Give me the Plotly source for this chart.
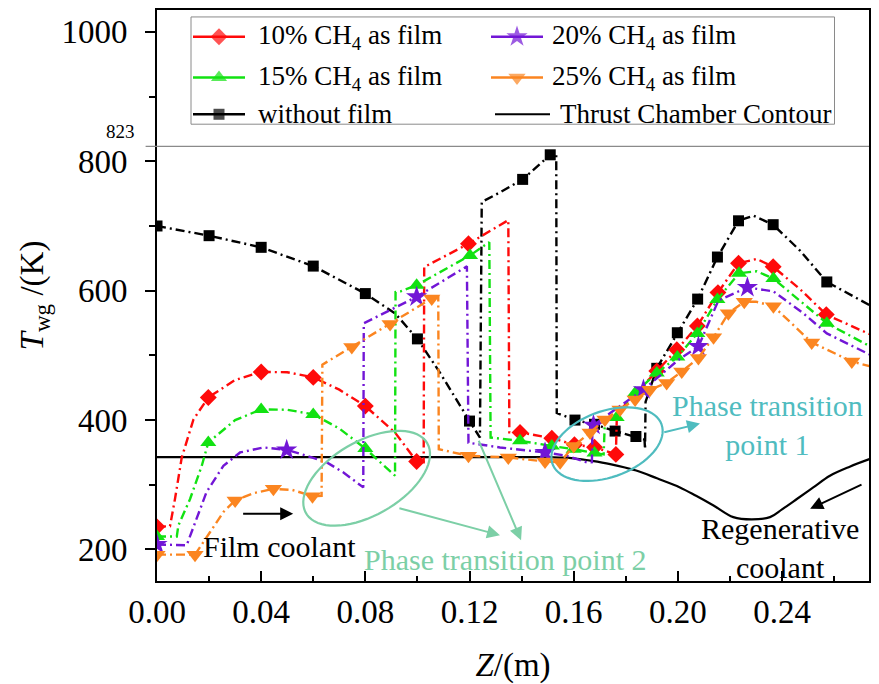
import numpy as np
import plotly.graph_objects as go

# ---------------- data ----------------
# without film
z_nofilm = [0, 0.02, 0.04, 0.06, 0.08, 0.0914, 0.10, 0.1087, 0.12, 0.124, 0.1247, 0.1317, 0.1404, 0.151, 0.1533,
            0.1535, 0.1605, 0.168, 0.1759, 0.1839, 0.1872, 0.1874, 0.1876, 0.1919, 0.1998, 0.2076, 0.2152, 0.2233,
            0.229, 0.2366, 0.2469, 0.2572, 0.2735]
T_nofilm = [700, 685, 667, 638, 595.5, 565, 525.5, 473, 398.5, 373, 737, 752, 772, 810, 813,
            411, 400, 393.5, 383, 374.6, 370, 355, 428, 480, 535, 587, 652, 708,
            716, 702, 662, 613.5, 578]
zm_nofilm = [0, 0.02, 0.04, 0.06, 0.08, 0.10, 0.12, 0.1404, 0.151, 0.1605, 0.168, 0.1759, 0.1839, 0.1919, 0.1998,
             0.2076, 0.2152, 0.2233, 0.2366, 0.2572]
Tm_nofilm = [700, 685, 667, 638, 595.5, 525.5, 398.5, 772, 810, 400, 393.5, 383, 374.6, 480, 535,
             587, 652, 708, 702, 613.5]

# 10% CH4 as film
z_10 = [0, 0.005, 0.0069, 0.0095, 0.014, 0.0197, 0.03, 0.04, 0.05, 0.06, 0.07, 0.08, 0.0914, 0.0997, 0.1024,
        0.1026, 0.1196, 0.1349, 0.1353, 0.1394, 0.1516, 0.1603, 0.168, 0.1762, 0.1766, 0.184, 0.1919, 0.1996,
        0.2075, 0.2154, 0.2233, 0.2303, 0.2366, 0.247, 0.2570, 0.2735]
T_10 = [235, 236, 278, 342, 401, 435, 462, 474.4, 474, 466, 447, 421.6, 380.7, 336, 335,
        636.5, 672.5, 709, 381, 381, 372, 362, 358, 347, 410, 442, 476, 508.6,
        545.5, 597, 642.5, 649, 637, 602, 563, 533]
zm_10 = [0, 0.0197, 0.04, 0.06, 0.08, 0.0997, 0.1196, 0.1394, 0.1516, 0.1603, 0.168, 0.1762, 0.1919, 0.1996,
         0.2075, 0.2154, 0.2233, 0.2366, 0.2570]
Tm_10 = [235, 435, 474.4, 466, 421.6, 336, 672.5, 381, 372, 362, 358, 347, 476, 508.6,
         545.5, 597, 642.5, 637, 563]

# 15% CH4 as film
z_15 = [0, 0.0076, 0.0082, 0.0127, 0.0172, 0.0197, 0.03, 0.04, 0.05, 0.06, 0.07, 0.08, 0.0914, 0.0916, 0.0935,
        0.0997, 0.1202, 0.1276, 0.1281, 0.1394, 0.1516, 0.16, 0.168, 0.1715, 0.172, 0.1765, 0.1836, 0.1919,
        0.1998, 0.2075, 0.2152, 0.2235, 0.2303, 0.2367, 0.247, 0.2572, 0.2738]
T_15 = [220, 220, 237, 278, 329.5, 365.4, 400, 416.5, 416, 408.8, 387, 356, 314, 598, 599,
        608.5, 654.5, 675, 373, 368, 360, 355, 349, 347, 400, 404, 442, 472.8,
        497.5, 534, 586.5, 627, 630, 618.7, 584, 549.6, 514]
zm_15 = [0, 0.0197, 0.04, 0.06, 0.08, 0.0997, 0.1202, 0.1394, 0.1516, 0.16, 0.168, 0.1765, 0.1836, 0.1919,
         0.1998, 0.2075, 0.2152, 0.2235, 0.2367, 0.2572]
Tm_15 = [220, 365.4, 416.5, 408.8, 356, 608.5, 654.5, 368, 360, 355, 349, 404, 442, 472.8,
         497.5, 534, 586.5, 627, 618.7, 549.6]

# 20% CH4 as film
z_20 = [0, 0.0114, 0.0152, 0.019, 0.0255, 0.0319, 0.0408, 0.0498, 0.0575, 0.0652, 0.0716, 0.0792, 0.0794,
        0.0997, 0.119, 0.1196, 0.1317, 0.149, 0.1573, 0.165, 0.167, 0.1672, 0.1765, 0.1868, 0.2002, 0.2079,
        0.2156, 0.2267, 0.2367, 0.2482, 0.2572, 0.2738]
T_20 = [207.7, 206.6, 247.6, 288.6, 329.4, 350, 357.7, 354, 344.8, 334.6, 319, 296, 549.6,
        590.5, 637.6, 365, 357.7, 350, 344.8, 334.7, 335, 391, 418, 447, 493, 513.7,
        585, 605, 599, 565, 534, 501]
zm_20 = [0, 0.0498, 0.0997, 0.149, 0.1676, 0.1868, 0.2079, 0.2267]
Tm_20 = [207.7, 354, 590.5, 350, 392, 447, 513.7, 605]

# 25% CH4 as film
z_25 = [0, 0.0146, 0.0204, 0.0255, 0.030, 0.037, 0.0447, 0.052, 0.0597, 0.0632, 0.0635, 0.0748, 0.0895, 0.1055,
        0.1080, 0.1082, 0.1196, 0.1349, 0.149, 0.1548, 0.16, 0.1663, 0.172, 0.1778, 0.1836, 0.1893, 0.1957,
        0.2015, 0.2079, 0.2137, 0.2194, 0.2255, 0.2300, 0.2367, 0.2514, 0.2668, 0.2738]
T_25 = [192, 192, 227, 258, 275.7, 287, 293.7, 292, 282.4, 283, 485.6, 512.8, 548.6, 588,
        590, 355, 344.8, 342.3, 336, 334.7, 360, 380.7, 401, 416.5, 432, 447, 457.5,
        475, 496, 528, 565, 582.8, 583, 576, 520, 490.7, 483]
zm_25 = [0, 0.0146, 0.030, 0.0447, 0.0597, 0.0748, 0.0895, 0.1055, 0.1196, 0.1349, 0.149, 0.1548, 0.16,
         0.1663, 0.172, 0.1778, 0.1836, 0.1893, 0.1957, 0.2015, 0.2079, 0.2137, 0.2194, 0.2255, 0.2367,
         0.2514, 0.2668]
Tm_25 = [192, 192, 275.7, 293.7, 282.4, 512.8, 548.6, 588, 344.8, 342.3, 336, 334.7, 360,
         380.7, 401, 416.5, 432, 447, 457.5, 475, 496, 528, 565, 582.8, 576,
         520, 490.7]

# thrust chamber contour
z_contour = [0, 0.15, 0.155, 0.16, 0.167, 0.174, 0.184, 0.192, 0.2008, 0.207, 0.2137, 0.2213, 0.2284, 0.2354,
             0.2400, 0.2457, 0.252, 0.2584, 0.266, 0.2738]
T_contour = [342.6, 342.6, 342, 340.8, 337, 332, 322, 310, 296, 283, 268, 250, 246.5, 250,
             262, 278, 296, 314, 328, 340]

T_limit = 823
x_ticks = [0.00, 0.04, 0.08, 0.12, 0.16, 0.20, 0.24]
y_ticks = [200, 400, 600, 800, 1000]

series_names = ["10% CH<sub>4</sub> as film", "15% CH<sub>4</sub> as film", "without film",
                "20% CH<sub>4</sub> as film", "25% CH<sub>4</sub> as film", "Thrust Chamber Contour"]

# ---------------- styling ----------------
FONT = "Liberation Serif"
OFF = 8                       # page body margin of the browser
W, H = 879 - OFF, 684 - OFF
L, R, T, B = 157, 869, 8, 583   # plot area in screen pixels
DASH = "9px,4px,2px,4px"
LW = 2.4

RED, GREEN, PURPLE, ORANGE, BLACK = "#ff0a0a", "#12e212", "#7216d6", "#fb8520", "#000000"
TEAL_GREEN = "#7ccfa6"
TEAL = "#4fbcbf"


def fx(px):
    return (px - L) / (R - L)


def fy(py):
    return (B - py) / (B - T)


fig = go.Figure()

fig.add_trace(go.Scatter(x=z_contour, y=T_contour, mode="lines", line=dict(color=BLACK, width=2.2, shape="spline"),
                         hoverinfo="skip"))

styles = [
    (z_nofilm, T_nofilm, zm_nofilm, Tm_nofilm, BLACK, "square", 11),
    (z_10, T_10, zm_10, Tm_10, RED, "diamond", 13),
    (z_15, T_15, zm_15, Tm_15, GREEN, "triangle-up", 14),
    (z_20, T_20, zm_20, Tm_20, PURPLE, "star", 16),
    (z_25, T_25, zm_25, Tm_25, ORANGE, "triangle-down", 15),
]
for zl, Tl, zm, Tm, col, sym, sz in styles:
    fig.add_trace(go.Scatter(x=zl, y=Tl, mode="lines", line=dict(color=col, width=LW, dash=DASH)))
    fig.add_trace(go.Scatter(x=zm, y=Tm, mode="markers",
                             marker=dict(color=col, symbol=sym, size=sz, line=dict(width=0))))

# ---------------- manual legend ----------------
leg_rows = [35, 76, 113]
leg_cols = [(193, 245, 256), (491, 543, 550)]
leg_items = [
    (0, 0, RED, "diamond", 13, series_names[0]),
    (1, 0, GREEN, "triangle-up", 14, series_names[1]),
    (2, 0, BLACK, "square", 11, series_names[2]),
    (0, 1, PURPLE, "star", 16, series_names[3]),
    (1, 1, ORANGE, "triangle-down", 15, series_names[4]),
    (2, 1, BLACK, None, 0, series_names[5]),
]
for r, c, col, sym, sz, name in leg_items:
    x0, x1, xt = leg_cols[c]
    yy = fy(leg_rows[r])
    if sym is None:
        x0, x1, xt = 495, 550, 558
        fig.add_trace(go.Scatter(x=[fx(x0), fx(x1)], y=[yy, yy], mode="lines", xaxis="x2", yaxis="y2",
                                 line=dict(color=col, width=2.2), hoverinfo="skip"))
    else:
        fig.add_trace(go.Scatter(x=[fx(x0), fx((x0 + x1) / 2), fx(x1)], y=[yy, yy, yy], mode="lines+markers",
                                 xaxis="x2", yaxis="y2", line=dict(color=col, width=LW),
                                 marker=dict(symbol=sym, color=col, size=[0, sz, 0], line=dict(width=0)),
                                 hoverinfo="skip"))
    fig.add_annotation(xref="paper", yref="paper", x=fx(xt), y=yy, text=name, showarrow=False,
                       xanchor="left", yanchor="middle", font=dict(family=FONT, size=27, color="black"))

shapes = []
shapes.append(dict(type="rect", xref="paper", yref="paper", x0=fx(191), x1=fx(834.5), y0=fy(123), y1=fy(15),
                   line=dict(color="#8a8a8a", width=1), fillcolor="rgba(0,0,0,0)", layer="below"))
# 823 K line
shapes.append(dict(type="line", xref="paper", yref="y", x0=-0.016, x1=1, y0=T_limit, y1=T_limit,
                   line=dict(color="#8a8a8a", width=1.2)))


def ellipse_path(a, b, theta_deg, n=72):
    t = np.linspace(0, 2 * np.pi, n)
    th = np.radians(theta_deg)
    xs = a * np.cos(t) * np.cos(th) - b * np.sin(t) * np.sin(th)
    ys = a * np.cos(t) * np.sin(th) + b * np.sin(t) * np.cos(th)
    pts = ["%s%.2f,%.2f" % ("M" if i == 0 else "L", xs[i], ys[i]) for i in range(n)]
    return " ".join(pts) + " Z"


shapes.append(dict(type="path", xref="x", yref="y", xsizemode="pixel", ysizemode="pixel",
                   xanchor=0.0805, yanchor=310.1, path=ellipse_path(70, 37, 30),
                   line=dict(color=TEAL_GREEN, width=2.2)))
shapes.append(dict(type="path", xref="x", yref="y", xsizemode="pixel", ysizemode="pixel",
                   xanchor=0.1728, yanchor=362.8, path=ellipse_path(58, 33, 20),
                   line=dict(color=TEAL, width=2.2)))

ann_font = dict(family=FONT, size=30)
fig.add_annotation(x=0.0469, y=204.6, text="Film coolant", showarrow=False, font=dict(ann_font, color="black"))
fig.add_annotation(x=0.1336, y=184, text="Phase transition point 2", showarrow=False,
                   font=dict(ann_font, color=TEAL_GREEN))
fig.add_annotation(x=0.2346, y=392, text="Phase transition<br>point 1", showarrow=False,
                   font=dict(ann_font, color=TEAL))
fig.add_annotation(x=0.2393, y=203, text="Regenerative<br>coolant", showarrow=False,
                   font=dict(ann_font, color="black"))
fig.add_annotation(xref="paper", x=-0.028, y=846, text="823", showarrow=False, xanchor="right",
                   font=dict(family=FONT, size=19, color="black"))

arrows = [
    (0.0523, 255.3, 0.0325, 255.3, BLACK),
    (0.1317, 222, 0.0925, 264.5, TEAL_GREEN),
    (0.1398, 214.3, 0.1233, 370.4, TEAL_GREEN),
    (0.2085, 394.6, 0.1942, 380.7, TEAL),
    (0.2508, 263, 0.2711, 301.3, BLACK),
]
for hx, hy, tx, ty, col in arrows:
    fig.add_annotation(x=hx, y=hy, ax=tx, ay=ty, axref="x", ayref="y", text="", showarrow=True,
                       arrowhead=2, arrowsize=1.3, arrowwidth=2, arrowcolor=col)

fig.update_layout(
    width=W, height=H, showlegend=False,
    margin=dict(l=L - OFF, r=W - (R - OFF), t=T - OFF, b=H - (B - OFF), pad=0),
    paper_bgcolor="white", plot_bgcolor="white",
    font=dict(family=FONT, color="black"),
    shapes=shapes,
    xaxis=dict(range=[0, 0.2734], tickvals=x_ticks, ticktext=["%.2f" % v for v in x_ticks],
               ticks="inside", ticklen=10, tickwidth=2, tickcolor="black",
               minor=dict(dtick=0.02, tick0=0, ticks="inside", ticklen=5, tickwidth=2, tickcolor="black"),
               showline=True, linewidth=2, linecolor="black", mirror=True, showgrid=False, zeroline=False,
               tickfont=dict(family=FONT, size=33, color="black"),
               title=dict(text="<i>Z</i>/(m)", font=dict(family=FONT, size=33, color="black"), standoff=31)),
    yaxis=dict(range=[151.3, 1033.8], tickvals=y_ticks, ticks="outside", ticklen=10, tickwidth=2,
               tickcolor="black", ticklabelstandoff=11,
               minor=dict(dtick=100, tick0=0, ticks="outside", ticklen=6, tickwidth=2, tickcolor="black"),
               showline=True, linewidth=2, linecolor="black", mirror=True, showgrid=False, zeroline=False,
               tickfont=dict(family=FONT, size=33, color="black"),
               title=dict(text="<i>T</i><sub>wg</sub> /(K)", font=dict(family=FONT, size=33, color="black"),
                          standoff=8)),
    xaxis2=dict(overlaying="x", anchor="y2", range=[0, 1], visible=False, fixedrange=True),
    yaxis2=dict(overlaying="y", anchor="x2", range=[0, 1], visible=False, fixedrange=True),
)

fig.write_html("out.html")
